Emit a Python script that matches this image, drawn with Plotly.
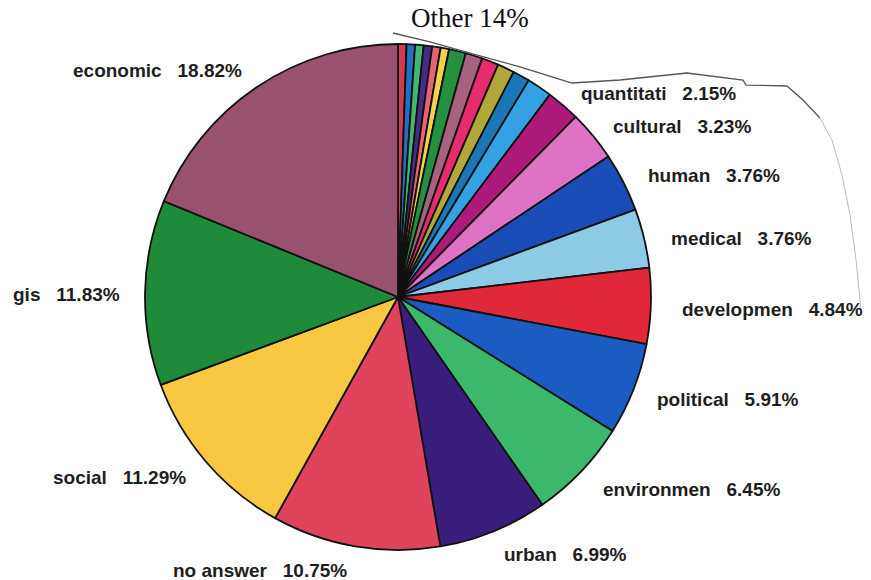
import plotly.graph_objects as go

W, H = 871, 580

# ---- data (clockwise from 12 o'clock) ----
categories = ["o1", "o2", "o3", "o4", "o5", "o6", "o7", "o8", "o9", "o10", "o11", "o12",
              "quantitati", "cultural", "human", "medical", "developmen", "political",
              "environmen", "urban", "no answer", "social", "gis", "economic"]
percent = [0.54, 0.54, 0.54, 0.54, 0.54, 0.54, 1.08, 1.08, 1.08, 1.08, 1.08, 1.61,
           2.15, 3.23, 3.76, 3.76, 4.84, 5.91,
           6.45, 6.99, 10.75, 11.29, 11.83, 18.82]
labeled = ["quantitati", "cultural", "human", "medical", "developmen", "political",
           "environmen", "urban", "no answer", "social", "gis", "economic"]
other_label = "Other 14%"

# ---- styles ----
colors = ["#D23A4E", "#2270C4", "#40B870", "#4A2A88", "#E86474", "#F2D24A",
          "#23913F", "#A6627E", "#E62C6C", "#B2A83A", "#1A78B6", "#34A2E2",
          "#AE1A7A", "#DE72C4", "#1A4CB6", "#8CCAE6", "#E02838", "#1A5CC2",
          "#3CB86A", "#3A1E7E", "#E0445C", "#F8C842", "#1F8A3A", "#98516F"]

# label centre positions in pixels (layout only)
label_pos = {
    "quantitati": (658, 93), "cultural": (682, 126), "human": (714, 176),
    "medical": (741, 238), "developmen": (772, 309), "political": (728, 399),
    "environmen": (692, 489), "urban": (565, 554), "no answer": (260, 570),
    "social": (119, 477), "gis": (66, 294), "economic": (157, 70),
}

cx, cy, r = 398, 297, 253
fig = go.Figure(go.Pie(
    labels=categories, values=percent, sort=False, direction="clockwise", rotation=0,
    marker=dict(colors=colors, line=dict(color="#111111", width=1.8)),
    textinfo="none", hoverinfo="label+percent", showlegend=False,
    domain=dict(x=[(cx - r) / W, (cx + r) / W], y=[(H - cy - r) / H, (H - cy + r) / H]),
))

annotations = []
for name, val in zip(categories, percent):
    if name in label_pos:
        x, y = label_pos[name]
        annotations.append(dict(
            x=x / W, y=1 - y / H, xref="paper", yref="paper", xanchor="center", yanchor="middle",
            text=f"{name}&nbsp;&nbsp;&nbsp;{val:.2f}%", showarrow=False,
            font=dict(family="Liberation Sans, Arial", size=19, color="#1E1E1E", weight="bold"),
        ))
annotations.append(dict(
    x=470 / W, y=1 - 18 / H, xref="paper", yref="paper", xanchor="center", yanchor="middle",
    text=other_label, showarrow=False,
    font=dict(family="Liberation Serif, Times New Roman", size=27, color="#111111"),
))

# hand-drawn bracket line (pixel points)
pts_dark = [(393, 33), (430, 42), (470, 53), (520, 67), (556, 78), (572, 83), (620, 80),
            (687, 73), (743, 80), (746, 85), (787, 86), (803, 100), (820, 118)]
pts_faint = [(820, 118), (832, 140), (842, 175), (850, 215), (856, 260), (861, 310)]


def to_path(pts):
    return "M " + " L ".join(f"{x / W:.4f},{1 - y / H:.4f}" for x, y in pts)


fig.update_layout(
    width=W, height=H, margin=dict(l=0, r=0, t=0, b=0),
    paper_bgcolor="white", plot_bgcolor="white",
    annotations=annotations,
    shapes=[
        dict(type="path", path=to_path(pts_dark), xref="paper", yref="paper",
             line=dict(color="#555555", width=1.3)),
        dict(type="path", path=to_path(pts_faint), xref="paper", yref="paper",
             line=dict(color="#BBBBBB", width=1.0)),
    ],
)
fig.write_html("out.html")
